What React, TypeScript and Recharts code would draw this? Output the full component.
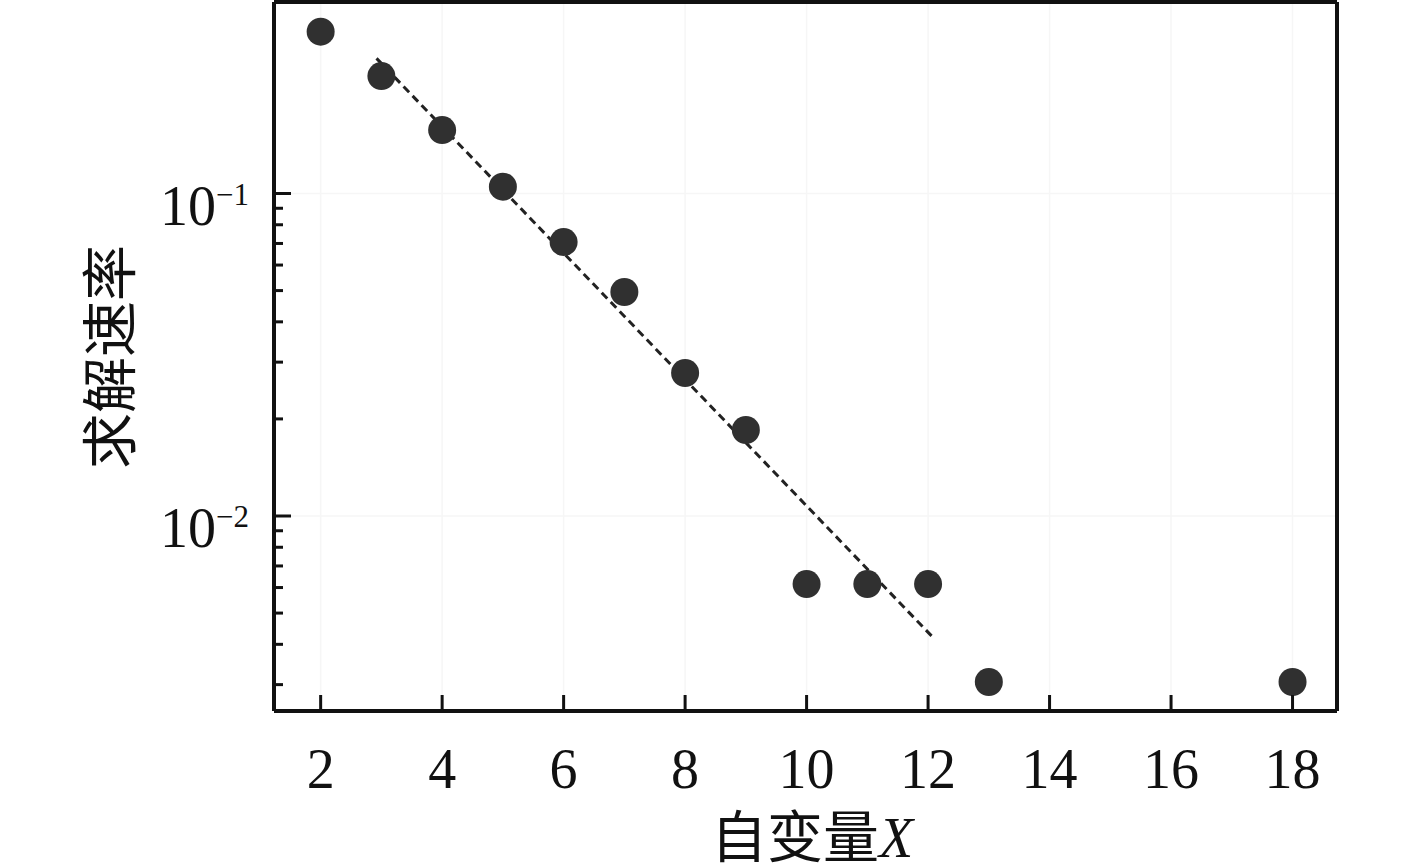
import React from 'react';
import {
  ComposedChart,
  Scatter,
  Line,
  XAxis,
  YAxis,
  CartesianGrid,
  ReferenceLine,
} from 'recharts';

// ---- data ----
const xValues = [2, 3, 4, 5, 6, 7, 8, 9, 10, 11, 12, 13, 18];
const rateValues = [0.3176, 0.2313, 0.1573, 0.105, 0.0707, 0.0495, 0.02776, 0.01848, 0.00615, 0.00615, 0.00615, 0.003057, 0.003057];
const fitX = [2.92, 12.07];
const fitY = [0.2625, 0.004223];
const xTicks = [2, 4, 6, 8, 10, 12, 14, 16, 18];
const yMajorTicks = [0.01, 0.1];
const yMajorExponents = ['−2', '−1'];
const yMinorTicks = [0.003, 0.004, 0.005, 0.006, 0.007, 0.008, 0.009, 0.02, 0.03, 0.04, 0.05, 0.06, 0.07, 0.08, 0.09];
const xLabel = '自变量';
const xLabelVar = 'X';
const yLabel = '求解速率';

const X_DOMAIN: [number, number] = [1.232, 18.732];
const Y_DOMAIN: [number, number] = [0.002485, 0.3925];

const points = xValues.map((x, i) => ({ x, y: rateValues[i] }));
const fitLine = fitX.map((x, i) => ({ x, y: fitY[i] }));
const yTicks = [...yMinorTicks, ...yMajorTicks].sort((a, b) => a - b);

// ---- layout ----
const W = 1417;
const H = 867;
const PLOT_LEFT = 274;
const PLOT_TOP = 2;
const PLOT_RIGHT = 1337;
const PLOT_BOTTOM = 711;
const INK = '#111';
const GRID = '#f6f6f6';
const SERIF = '"Liberation Serif", "Times New Roman", serif';
const CJK = '"Noto Sans CJK SC", sans-serif';

const YTick = (props: any) => {
  const { y, payload } = props;
  const v = payload.value;
  const mi = yMajorTicks.indexOf(v);
  const major = mi >= 0;
  return (
    <g>
      <line x1={PLOT_LEFT} x2={PLOT_LEFT + (major ? 17 : 9)} y1={y} y2={y} stroke={INK} strokeWidth={3} />
      {major && (
        <text x={160} y={y + 31} fontFamily={SERIF} fontSize={56} fill={INK}>
          10
          <tspan fontSize={31} dy={-20}>{yMajorExponents[mi]}</tspan>
        </text>
      )}
    </g>
  );
};

const XTick = (props: any) => {
  const { x, payload } = props;
  return (
    <g>
      <line x1={x} x2={x} y1={PLOT_BOTTOM} y2={PLOT_BOTTOM - 16} stroke={INK} strokeWidth={3} />
      <text x={x} y={788} textAnchor="middle" fontFamily={SERIF} fontSize={56} fill={INK}>
        {payload.value}
      </text>
    </g>
  );
};

export default function App() {
  return (
    <div style={{ position: 'absolute', left: 0, top: 0, width: W, height: H, background: '#fff' }}>
      <ComposedChart
        width={W}
        height={H}
        margin={{ top: PLOT_TOP, right: W - PLOT_RIGHT, bottom: 0, left: 0 }}
      >
        <CartesianGrid horizontal={false} stroke={GRID} strokeWidth={1.5} />
        <ReferenceLine y={0.1} stroke={GRID} strokeWidth={1.5} />
        <ReferenceLine y={0.01} stroke={GRID} strokeWidth={1.5} />
        <XAxis
          dataKey="x"
          type="number"
          domain={X_DOMAIN}
          allowDataOverflow
          ticks={xTicks}
          interval={0}
          height={H - PLOT_BOTTOM}
          axisLine={{ stroke: INK, strokeWidth: 4 }}
          tickLine={false}
          tick={<XTick />}
          label={{
            content: () => (
              <text x={812} y={857} textAnchor="middle" fontSize={56} fill={INK}>
                <tspan fontFamily={CJK}>{xLabel}</tspan>
                <tspan fontFamily={SERIF} fontStyle="italic">{xLabelVar}</tspan>
              </text>
            ),
          }}
        />
        <YAxis
          dataKey="y"
          type="number"
          scale="log"
          domain={Y_DOMAIN}
          allowDataOverflow
          ticks={yTicks}
          interval={0}
          width={PLOT_LEFT}
          axisLine={{ stroke: INK, strokeWidth: 4 }}
          tickLine={false}
          tick={<YTick />}
          label={{
            content: () => (
              <text
                x={105}
                y={357}
                transform="rotate(-90, 105, 357)"
                textAnchor="middle"
                dominantBaseline="central"
                fontFamily={CJK}
                fontSize={56}
                fill={INK}
              >
                {yLabel}
              </text>
            ),
          }}
        />
        <ReferenceLine y={Y_DOMAIN[1]} stroke={INK} strokeWidth={4} ifOverflow="visible" />
        <ReferenceLine x={X_DOMAIN[1]} stroke={INK} strokeWidth={4} ifOverflow="visible" />
        <Line
          data={fitLine}
          dataKey="y"
          type="linear"
          stroke="#222"
          strokeWidth={3}
          strokeDasharray="8 5"
          dot={false}
          activeDot={false}
          isAnimationActive={false}
        />
        <Scatter
          data={points}
          dataKey="y"
          fill="#303030"
          isAnimationActive={false}
          shape={(p: any) => <circle cx={p.cx} cy={p.cy} r={14} fill="#303030" />}
        />
      </ComposedChart>
    </div>
  );
}
